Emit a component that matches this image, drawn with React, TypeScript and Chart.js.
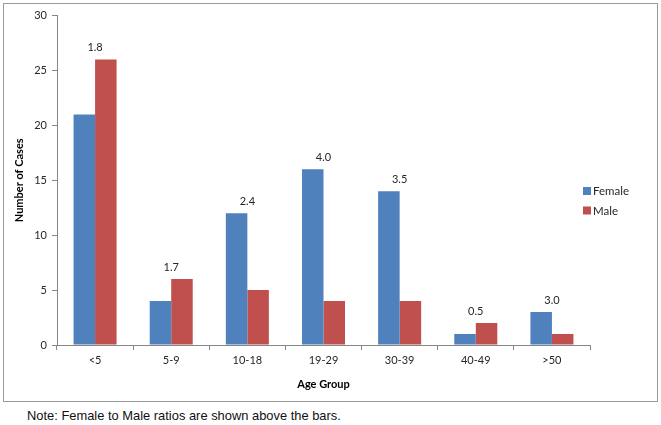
import React, { useEffect, useRef } from "react";
import { Chart, registerables } from "chart.js";

Chart.register(...registerables);

const categories = ["<5", "5-9", "10-18", "19-29", "30-39", "40-49", ">50"];
const femaleCases = [21, 4, 12, 16, 14, 1, 3];
const maleCases = [26, 6, 5, 4, 4, 2, 1];
const ratioLabels = ["1.8", "1.7", "2.4", "4.0", "3.5", "0.5", "3.0"];
const yMin = 0;
const yMax = 30;
const yStep = 5;

const FEMALE_COLOR = "#4F81BD";
const MALE_COLOR = "#C0504D";
const AXIS_COLOR = "#868686";
const TEXT_COLOR = "#262626";
const FONT = "Lato, 'Open Sans', 'Liberation Sans', sans-serif";

const ratioPlugin = {
  id: "ratioLabels",
  afterDatasetsDraw(chart: any) {
    const ctx = chart.ctx;
    const xScale = chart.scales.x;
    ctx.save();
    ctx.font = `11px ${FONT}`;
    ctx.fillStyle = TEXT_COLOR;
    ctx.textAlign = "center";
    ctx.textBaseline = "middle";
    ratioLabels.forEach((lab, i) => {
      let top = Infinity;
      chart.data.datasets.forEach((_: any, d: number) => {
        const el = chart.getDatasetMeta(d).data[i];
        if (el && el.y < top) top = el.y;
      });
      const x = xScale.getPixelForValue(i);
      ctx.fillText(lab, x, top - 12);
    });
    ctx.restore();
  },
};

const legendPlugin = {
  id: "customLegend",
  afterDraw(chart: any) {
    const ctx = chart.ctx;
    ctx.save();
    ctx.font = `11.5px ${FONT}`;
    ctx.textAlign = "left";
    ctx.textBaseline = "middle";
    const x0 = chart.chartArea.right - 7;
    const yc0 = 187;
    chart.data.datasets.forEach((ds: any, d: number) => {
      const yc = yc0 + d * 19.5;
      ctx.fillStyle = ds.backgroundColor;
      ctx.fillRect(x0, yc - 4, 8, 8);
      ctx.fillStyle = TEXT_COLOR;
      ctx.fillText(ds.label, x0 + 10, yc + 0.5);
    });
    ctx.restore();
  },
};

export default function App() {
  const ref = useRef<HTMLCanvasElement | null>(null);

  useEffect(() => {
    document.body.style.margin = "0";
    if (!ref.current) return;
    const chart = new Chart(ref.current, {
      type: "bar",
      data: {
        labels: categories,
        datasets: [
          {
            label: "Female",
            data: femaleCases,
            backgroundColor: FEMALE_COLOR,
            borderWidth: 0,
            categoryPercentage: 0.565,
            barPercentage: 1,
          },
          {
            label: "Male",
            data: maleCases,
            backgroundColor: MALE_COLOR,
            borderWidth: 0,
            categoryPercentage: 0.565,
            barPercentage: 1,
          },
        ],
      },
      options: {
        animation: false,
        responsive: false,
        devicePixelRatio: 1,
        layout: { padding: { top: 11, right: 67, left: 0, bottom: 0 } },
        plugins: {
          legend: { display: false },
          tooltip: { enabled: false },
        },
        scales: {
          x: {
            afterFit: (s: any) => {
              s.height = 56;
            },
            grid: {
              display: true,
              drawOnChartArea: false,
              drawTicks: true,
              tickLength: 5,
              color: AXIS_COLOR,
              offset: true,
            },
            border: { display: true, color: AXIS_COLOR, width: 1 },
            ticks: {
              color: TEXT_COLOR,
              font: { family: FONT, size: 11 },
              padding: 4,
              maxRotation: 0,
            },
            title: {
              display: true,
              text: "Age Group",
              color: "#000",
              font: { family: FONT, size: 11, weight: "bold" },
              padding: { top: 0, bottom: 10 },
            },
          },
          y: {
            min: yMin,
            max: yMax,
            afterFit: (s: any) => {
              s.width = 53;
            },
            grid: {
              display: true,
              drawOnChartArea: false,
              drawTicks: true,
              tickLength: 5,
              color: AXIS_COLOR,
            },
            border: { display: true, color: AXIS_COLOR, width: 1 },
            ticks: {
              stepSize: yStep,
              color: TEXT_COLOR,
              font: { family: FONT, size: 11 },
              padding: 5,
            },
            title: {
              display: true,
              text: "Number of Cases",
              color: "#000",
              font: { family: FONT, size: 11, weight: "bold" },
              padding: { top: 9, bottom: 0 },
            },
          },
        },
      },
      plugins: [ratioPlugin, legendPlugin],
    } as any);
    return () => chart.destroy();
  }, []);

  return (
    <div
      style={{
        position: "fixed",
        left: 0,
        top: 0,
        width: 661,
        height: 425,
        background: "#fff",
      }}
    >
      <div
        style={{
          position: "absolute",
          left: 3,
          top: 3,
          width: 653,
          height: 397,
          border: "1px solid #9a9a9a",
        }}
      >
        <canvas ref={ref} width={653} height={397} style={{ display: "block" }} />
      </div>
      <div
        style={{
          position: "absolute",
          left: 27,
          top: 408,
          fontFamily: "'Liberation Sans', Arial, sans-serif",
          fontSize: 12.9,
          lineHeight: "16px",
          color: "#111",
          whiteSpace: "nowrap",
        }}
      >
        Note: Female to Male ratios are shown above the bars.
      </div>
    </div>
  );
}
